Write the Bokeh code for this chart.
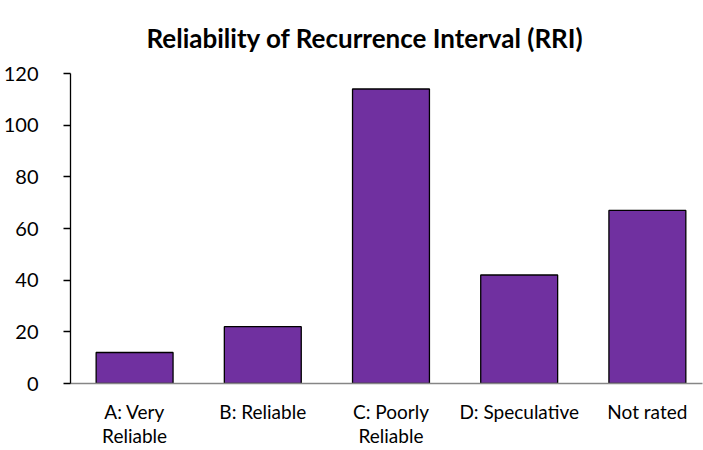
from bokeh.plotting import figure
from bokeh.models import Range1d, FixedTicker
from bokeh.embed import file_html
from bokeh.resources import INLINE

title_text = "Reliability of Recurrence Interval (RRI)"
categories = ["A: Very\nReliable", "B: Reliable", "C: Poorly\nReliable", "D: Speculative", "Not rated"]
counts = [12, 22, 114, 42, 67]
y_ticks = [0, 20, 40, 60, 80, 100, 120]

FONT = "Lato"
idx = list(range(len(categories)))

p = figure(frame_width=632, frame_height=310, output_backend="svg", toolbar_location=None,
           x_range=Range1d(-0.5, 4.43), y_range=Range1d(0, 120),
           min_border_left=70, min_border_right=1, min_border_top=73, min_border_bottom=54)

p.vbar(x=idx, top=counts, width=0.6, bottom=0,
       fill_color="#7030A0", line_color="black", line_width=1.3)

p.title.text = title_text
p.title.text_font = FONT
p.title.text_font_size = "26px"
p.title.text_font_style = "bold"
p.title.text_color = "black"
p.title.align = "left"
p.title.offset = 76
p.title.standoff = 39

p.xgrid.visible = False
p.ygrid.visible = False
p.outline_line_color = None

xa = p.xaxis[0]
xa.ticker = FixedTicker(ticks=idx)
xa.major_label_overrides = {i: c for i, c in zip(idx, categories)}
xa.major_tick_line_color = None
xa.minor_tick_line_color = None
xa.axis_line_color = "#868686"
xa.axis_line_width = 1.3
xa.major_label_text_font = FONT
xa.major_label_text_font_size = "19px"
xa.major_label_text_color = "black"
xa.major_label_standoff = 10
xa.major_label_text_line_height = 1.05

ya = p.yaxis[0]
ya.ticker = FixedTicker(ticks=y_ticks)
ya.minor_tick_line_color = None
ya.major_tick_in = 0
ya.major_tick_out = 7
ya.axis_line_color = "black"
ya.axis_line_width = 1.3
ya.major_tick_line_color = "black"
ya.major_tick_line_width = 1.3
ya.major_label_text_font = FONT
ya.major_label_text_font_size = "20px"
ya.major_label_text_color = "black"
ya.major_label_standoff = 25

open("out.html", "w").write(file_html(p, INLINE))
